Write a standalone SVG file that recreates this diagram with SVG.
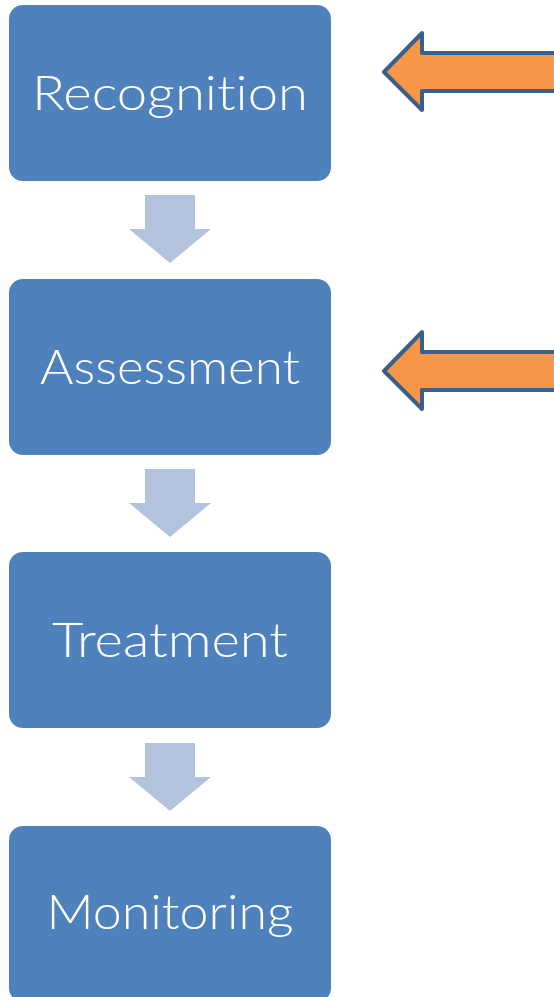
<svg xmlns="http://www.w3.org/2000/svg" width="554" height="997" viewBox="0 0 554 997">
  <defs>
    <style>
      .box { fill: #4f81bd; }
      .label { fill: #ffffff; font-family: "Lato", "Liberation Sans", sans-serif; font-weight: 300; font-size: 47px; text-anchor: middle; font-variant-ligatures: none; font-feature-settings: "liga" 0, "clig" 0, "dlig" 0, "calt" 0; }
      .down { fill: #b3c2dd; }
      .pointer { fill: #f79646; stroke: #3a5f8b; stroke-width: 4; stroke-linejoin: round; }
    </style>
    <path id="downArrow" d="M145 195 H195 V229 H211 L170 263 L129 229 H145 Z"/>
    <path id="pointerArrow" d="M384 72 L422 33 V53 H556 V91 H422 V110 Z"/>
  </defs>

  <g id="connectors">
    <use href="#downArrow" class="down"/>
    <use href="#downArrow" class="down" transform="translate(0 274)"/>
    <use href="#downArrow" class="down" transform="translate(0 548)"/>
  </g>

  <g id="recognition">
    <rect class="box" x="9" y="5" width="322" height="176" rx="14"/>
    <text class="label" x="170" y="110" textLength="276" lengthAdjust="spacingAndGlyphs">Recognition</text>
  </g>
  <g id="assessment">
    <rect class="box" x="9" y="279" width="322" height="176" rx="14"/>
    <text class="label" x="170" y="384" textLength="260" lengthAdjust="spacingAndGlyphs">Assessment</text>
  </g>
  <g id="treatment">
    <rect class="box" x="9" y="552" width="322" height="176" rx="14"/>
    <text class="label" x="170" y="657" textLength="236" lengthAdjust="spacingAndGlyphs">Treatment</text>
  </g>
  <g id="monitoring">
    <rect class="box" x="9" y="826" width="322" height="176" rx="14"/>
    <text class="label" x="170" y="929" textLength="247" lengthAdjust="spacingAndGlyphs">Monitoring</text>
  </g>

  <g id="pointer-recognition">
    <use href="#pointerArrow" class="pointer"/>
  </g>
  <g id="pointer-assessment">
    <use href="#pointerArrow" class="pointer" transform="translate(0 299)"/>
  </g>
</svg>
